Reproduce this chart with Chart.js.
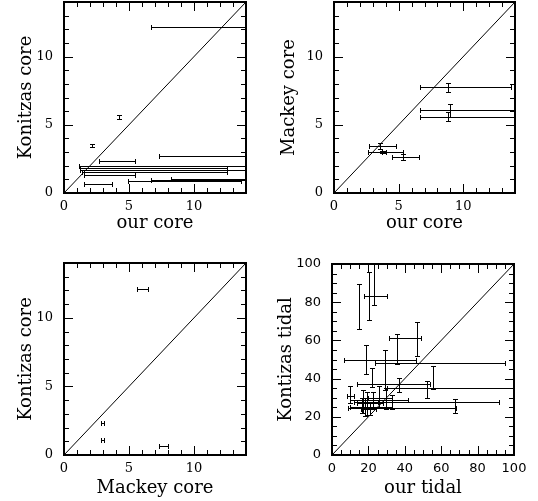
<!DOCTYPE html>
<html lang="en">
  <head>
    <meta charset="UTF-8" />
    <title>Core and tidal radii</title>
    <script src="https://cdn.jsdelivr.net/npm/chart.js"></script>
    <style>
      body {
        margin: 0;
        background: #fff;
      }
      .grid {
        position: relative;
        width: 538px;
        height: 501px;
      }
      canvas {
        position: absolute;
      }
    </style>
  </head>
  <body>
    <div class="grid">
      <canvas id="c1" width="269" height="250" style="left: 0; top: 0"></canvas>
      <canvas id="c2" width="269" height="250" style="left: 269px; top: 0"></canvas>
      <canvas id="c3" width="269" height="251" style="left: 0; top: 250px"></canvas>
      <canvas id="c4" width="269" height="251" style="left: 269px; top: 250px"></canvas>
    </div>

    <script>
      // our core vs Kontizas core
      const ourCoreA = [12.3, 4.25, 2.13, 4.0, 11.0, 2.1, 5.2, 3.0, 9.5, 3.4, 13.0, 11.2, 1.8, 9.0]
      const ourCoreALo = [6.7, 4.25, 2.13, 2.7, 7.3, 1.18, 1.2, 1.2, 1.4, 1.5, 8.2, 4.9, 1.5, 6.7]
      const ourCoreAHi = [18, 4.25, 2.13, 5.46, 18, 18, 12.5, 18, 12.5, 5.46, 18, 13.6, 3.7, 18]
      const konCoreA = [12.15, 5.55, 3.47, 2.35, 2.71, 2.0, 1.85, 1.69, 1.52, 1.32, 1.0, 0.88, 0.66, 0.95]
      const konCoreALo = [12.15, 5.4, 3.35, 2.35, 2.71, 2.0, 1.85, 1.69, 1.52, 1.32, 1.0, 0.88, 0.66, 0.95]
      const konCoreAHi = [12.15, 5.7, 3.6, 2.35, 2.71, 2.0, 1.85, 1.69, 1.52, 1.32, 1.0, 0.88, 0.66, 0.95]

      // our core vs Mackey core
      const ourCoreB = [8.8, 9.0, 8.8, 3.56, 3.69, 3.85, 5.36]
      const ourCoreBLo = [6.65, 6.65, 6.65, 2.68, 2.63, 3.7, 4.49]
      const ourCoreBHi = [13.66, 16, 16, 4.8, 5.36, 4.0, 6.6]
      const mackeyCoreB = [7.75, 6.06, 5.6, 3.45, 3.0, 3.0, 2.62]
      const mackeyCoreBLo = [7.43, 5.6, 5.3, 3.25, 2.92, 2.95, 2.42]
      const mackeyCoreBHi = [8.09, 6.5, 5.94, 3.64, 3.08, 3.05, 2.83]

      // Mackey core vs Kontizas core
      const mackeyCoreC = [6.0, 2.95, 2.95, 7.7]
      const mackeyCoreCLo = [5.59, 2.82, 2.82, 7.33]
      const mackeyCoreCHi = [6.44, 3.08, 3.08, 8.03]
      const konCoreC = [12.13, 2.36, 1.09, 0.68]

      // our tidal vs Kontizas tidal
      const ourTidal = [15, 20.2, 23.1, 46.5, 35.5, 18.5, 29, 55.7, 37, 52.4, 9.9, 29.7, 67.7, 17, 18, 19.5, 21, 22.5, 16.5, 26, 22, 33]
      const ourTidalLo = [15, 17.8, 23.1, 31.3, 35.5, 6.6, 23.8, 55.7, 14, 30.4, 8, 12.3, 9, 12, 10, 14, 16, 10, 16.5, 20, 22, 33]
      const ourTidalHi = [15, 30.4, 23.1, 48.9, 35.5, 46, 95, 55.7, 54, 110, 12, 91.9, 68, 25, 33, 28, 24, 42, 16.5, 33, 22, 33]
      const konTidal = [77, 83, 92, 61, 55.5, 50, 48, 40.5, 37, 35.2, 31, 28, 24.5, 28, 25, 27, 24, 29, 26, 30, 40, 28]
      const konTidalLo = [66, 70.7, 78.5, 52, 47.5, 42.4, 34, 34.6, 33.2, 29.7, 27.2, 24, 21.8, 22, 20.5, 21, 21, 24.5, 22, 25, 35.4, 24]
      const konTidalHi = [89.4, 95.6, 105, 69.8, 63.5, 57.6, 55, 46.8, 40.2, 38.7, 36.3, 35, 29.2, 34, 30, 33, 28, 33, 30, 36, 45.8, 31.5]

      function points(xs, xlo, xhi, ys, ylo, yhi) {
        return xs.map((x, i) => ({
          x: x,
          y: ys[i],
          xMin: xlo[i],
          xMax: xhi[i],
          yMin: ylo ? ylo[i] : ys[i],
          yMax: yhi ? yhi[i] : ys[i],
        }))
      }

      const snap = (v) => Math.round(v) + 0.5

      // error bars, box and inward ticks
      const frame = {
        id: 'frame',
        afterDatasetsDraw(chart, args, opts) {
          const { ctx, chartArea: a, scales } = chart
          const sx = scales.x
          const sy = scales.y
          const cap = 2.5

          ctx.save()
          ctx.beginPath()
          ctx.rect(a.left, a.top, a.width, a.height)
          ctx.clip()
          ctx.strokeStyle = '#000'
          ctx.lineWidth = 1
          ctx.beginPath()
          chart.data.datasets[1].data.forEach((p) => {
            const px = snap(sx.getPixelForValue(p.x))
            const py = snap(sy.getPixelForValue(p.y))
            if (p.xMax > p.xMin) {
              const x1 = snap(sx.getPixelForValue(p.xMin))
              const x2 = snap(sx.getPixelForValue(p.xMax))
              ctx.moveTo(x1, py)
              ctx.lineTo(x2, py)
              ctx.moveTo(x1, py - cap)
              ctx.lineTo(x1, py + cap)
              ctx.moveTo(x2, py - cap)
              ctx.lineTo(x2, py + cap)
            }
            if (p.yMax > p.yMin) {
              const y1 = snap(sy.getPixelForValue(p.yMin))
              const y2 = snap(sy.getPixelForValue(p.yMax))
              ctx.moveTo(px, y1)
              ctx.lineTo(px, y2)
              ctx.moveTo(px - cap, y1)
              ctx.lineTo(px + cap, y1)
              ctx.moveTo(px - cap, y2)
              ctx.lineTo(px + cap, y2)
            }
          })
          ctx.stroke()
          ctx.restore()

          ctx.save()
          ctx.strokeStyle = '#000'
          ctx.lineWidth = 1
          ctx.beginPath()
          sx.ticks.forEach((t) => {
            const x = snap(sx.getPixelForValue(t.value))
            const len = t.value % opts.major === 0 ? 9 : 5
            ctx.moveTo(x, a.bottom)
            ctx.lineTo(x, a.bottom - len)
            ctx.moveTo(x, a.top)
            ctx.lineTo(x, a.top + len)
          })
          sy.ticks.forEach((t) => {
            const y = snap(sy.getPixelForValue(t.value))
            const len = t.value % opts.major === 0 ? 9 : 5
            ctx.moveTo(a.left, y)
            ctx.lineTo(a.left + len, y)
            ctx.moveTo(a.right, y)
            ctx.lineTo(a.right - len, y)
          })
          ctx.stroke()
          ctx.lineWidth = 2
          ctx.strokeRect(a.left, a.top, a.width, a.height)
          ctx.restore()
        },
      }

      function makeChart(id, data, cfg) {
        const tickFont = { family: cfg.tickFamily, size: 13 }
        const titleFont = { family: 'DejaVu Serif', size: 18 }
        const axisTicks = {
          stepSize: cfg.step,
          autoSkip: false,
          maxRotation: 0,
          color: '#000',
          font: tickFont,
          callback: (v) => (v % cfg.major === 0 ? String(v) : ''),
        }
        return new Chart(document.getElementById(id), {
          type: 'scatter',
          data: {
            datasets: [
              {
                data: [
                  { x: 0, y: 0 },
                  { x: cfg.max, y: cfg.max },
                ],
                showLine: true,
                borderColor: '#000',
                borderWidth: 1,
                pointRadius: 0,
              },
              {
                data: data,
                pointRadius: 0,
                backgroundColor: '#000',
              },
            ],
          },
          options: {
            responsive: false,
            animation: false,
            events: [],
            layout: {
              autoPadding: false,
              padding: { left: 0, right: cfg.right, top: cfg.top, bottom: 0 },
            },
            plugins: {
              legend: { display: false },
              tooltip: { enabled: false },
              frame: { major: cfg.major },
            },
            scales: {
              x: {
                type: 'linear',
                min: 0,
                max: cfg.max,
                grid: { display: false, drawTicks: false },
                border: { display: false },
                ticks: { ...axisTicks, padding: 6 },
                title: { display: true, text: cfg.xTitle, color: '#000', font: titleFont, padding: cfg.xTitlePad },
                afterFit: (s) => {
                  s.height = cfg.xHeight
                  s.paddingLeft = 0
                  s.paddingRight = 0
                },
              },
              y: {
                type: 'linear',
                min: 0,
                max: cfg.max,
                grid: { display: false, drawTicks: false },
                border: { display: false },
                ticks: { ...axisTicks, padding: 11 },
                title: { display: true, text: cfg.yTitle, color: '#000', font: titleFont, padding: cfg.yTitlePad },
                afterFit: (s) => {
                  s.width = cfg.yWidth
                  s.paddingTop = 0
                  s.paddingBottom = 0
                },
              },
            },
          },
          plugins: [frame],
        })
      }

      const core = { max: 14, step: 1, major: 5, tickFamily: 'DejaVu Serif' }

      makeChart('c1', points(ourCoreA, ourCoreALo, ourCoreAHi, konCoreA, konCoreALo, konCoreAHi), {
        ...core,
        xTitle: 'our core',
        yTitle: 'Konitzas core',
        yWidth: 64,
        xHeight: 57,
        right: 23,
        top: 2,
        xTitlePad: 16,
        yTitlePad: 16,
      })

      makeChart('c2', points(ourCoreB, ourCoreBLo, ourCoreBHi, mackeyCoreB, mackeyCoreBLo, mackeyCoreBHi), {
        ...core,
        xTitle: 'our core',
        yTitle: 'Mackey core',
        yWidth: 65,
        xHeight: 57,
        right: 23,
        top: 2,
        xTitlePad: 16,
        yTitlePad: 10,
      })

      makeChart('c3', points(mackeyCoreC, mackeyCoreCLo, mackeyCoreCHi, konCoreC), {
        ...core,
        xTitle: 'Mackey core',
        yTitle: 'Kontizas core',
        yWidth: 64,
        xHeight: 46,
        right: 23,
        top: 13,
        xTitlePad: 2,
        yTitlePad: 16,
      })

      makeChart('c4', points(ourTidal, ourTidalLo, ourTidalHi, konTidal, konTidalLo, konTidalHi), {
        max: 100,
        step: 5,
        major: 20,
        tickFamily: 'DejaVu Sans',
        xTitle: 'our tidal',
        yTitle: 'Kontizas tidal',
        yWidth: 63,
        xHeight: 46,
        right: 24,
        top: 14,
        xTitlePad: 2,
        yTitlePad: 7,
      })
    </script>
  </body>
</html>
